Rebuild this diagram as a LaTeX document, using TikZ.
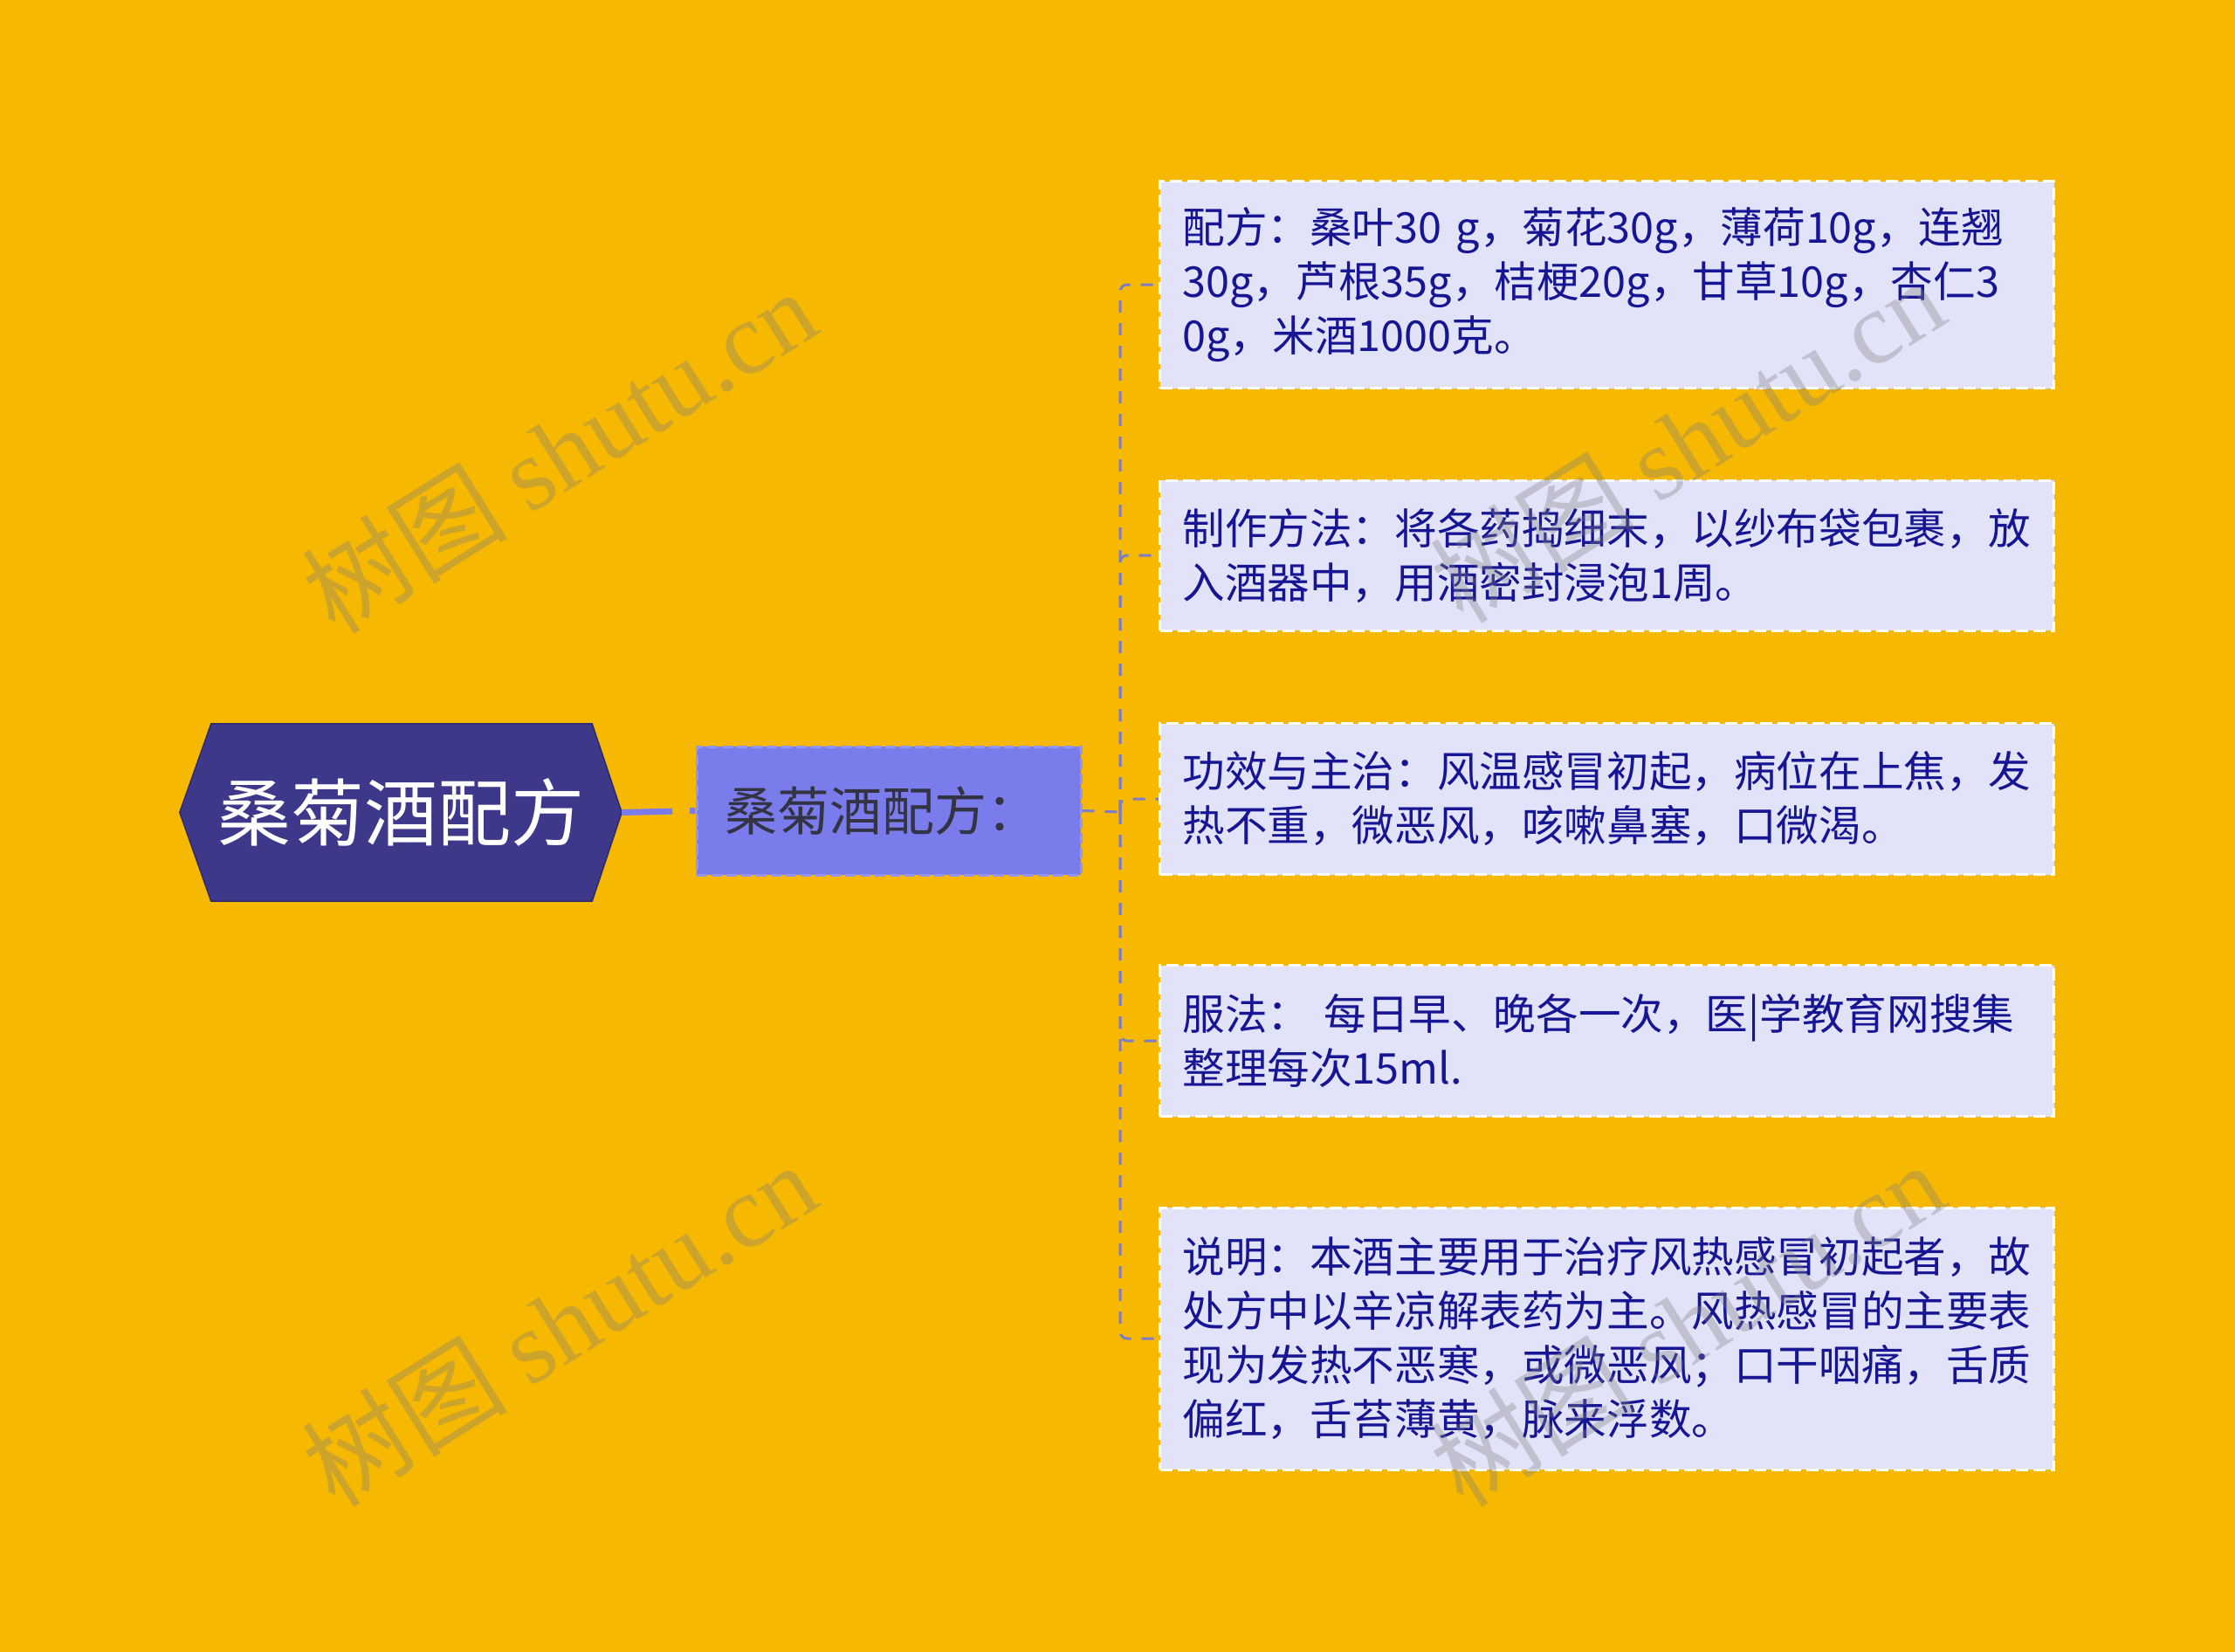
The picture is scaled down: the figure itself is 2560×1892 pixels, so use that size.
\documentclass[tikz,border=0pt]{standalone}
\usepackage{fontspec}
\setmainfont{Noto Sans CJK SC}
\newfontfamily\wmlatin{Liberation Serif}
\definecolor{bg}{RGB}{246,184,0}
\definecolor{rootfill}{RGB}{61,56,137}
\definecolor{midfill}{RGB}{123,124,235}
\definecolor{midborder}{RGB}{150,150,240}
\definecolor{boxfill}{RGB}{226,226,248}
\definecolor{boxtext}{RGB}{22,22,148}
\definecolor{midtext}{RGB}{51,51,68}
\definecolor{conn}{RGB}{125,125,200}
\definecolor{wmcol}{RGB}{128,128,128}
\tikzset{
  rootnode/.style={minimum width=506pt, minimum height=203pt, inner sep=0pt},
  midnode/.style={fill=midfill, draw=midborder, line width=3pt, dash pattern=on 12pt off 5pt, minimum width=440pt, minimum height=147pt, text width=376pt, inner xsep=32pt, inner ysep=0pt, align=left, text=midtext, font=\fontsize{60}{72}\selectfont},
  leaf/.style={fill=boxfill, draw=white, line width=3pt, dash pattern=on 14pt off 6pt, minimum height=#1, text width=972pt, inner xsep=26pt, inner ysep=0pt, align=left, anchor=west, text=boxtext, font=\fontsize{48.6}{62}\selectfont},
  trunkline/.style={draw=conn, line width=3pt, dash pattern=on 14pt off 12pt},
  rootline/.style={draw=midfill, line width=7pt, dash pattern=on 58pt off 20pt},
  wm/.style={rotate=32, text=wmcol, opacity=0.34, font=\fontsize{118}{124}\selectfont}
}
\begin{document}
\begin{tikzpicture}[x=1pt,y=-1pt]
\fill[bg] (0,0) rectangle (2560,1892);
\useasboundingbox (0,0) rectangle (2560,1892);

% root hexagon
\node[rootnode] (root) at (459,930.5) {};
\fill[rootfill, draw={rgb,255:red,45;green,42;blue,110}, line width=1.5pt]
  (root.west) -- ([xshift=36pt]root.north west) -- ([xshift=-34pt]root.north east)
  -- (root.east) -- ([xshift=-34pt]root.south east) -- ([xshift=36pt]root.south west) -- cycle;
\node[text=white, font=\fontsize{84}{100}\selectfont] (roottext) at (root.center) {桑菊酒配方};

% middle node
\node[midnode] (mid) at (1018,928.5) {桑菊酒配方：};

% leaves
\node[leaf=237pt] (b1) at (1327,326) {配方：桑叶30 g，菊花30g，薄荷10g，连翘\\30g，芦根35g，桔梗20g，甘草10g，杏仁3\\0g，米酒1000克。};
\node[leaf=172pt] (b2) at (1327,636) {制作方法：将各药捣细末，以纱布袋包裹，放\\入酒器中，用酒密封浸泡1周。};
\node[leaf=173pt] (b3) at (1327,915) {功效与主治：风温感冒初起，病位在上焦，发\\热不重，微恶风，咳嗽鼻塞，口微渴。};
\node[leaf=173pt] (b4) at (1327,1192) {服法：\ 每日早、晚各一次，医|学教育网搜集\\整理每次15ml.};
\node[leaf=300pt] (b5) at (1327,1533) {说明：本酒主要用于治疗风热感冒初起者，故\\处方中以辛凉解表药为主。风热感冒的主要表\\现为发热不恶寒，或微恶风；口干咽痛，舌质\\偏红，舌苔薄黄，脉来浮数。};

% connectors
\draw[rootline] (root.east) -- (mid.west);
\coordinate (split) at (1283,930);
\draw[trunkline] (mid.east) -- (split);
\foreach \b in {b1,b2,b3,b4,b5}{
  \draw[trunkline, rounded corners=8pt] (split) |- (\b.west);
}

% watermarks
\node[wm] (wm1) at (640,516) {树图 {\wmlatin shutu.cn}};
\node[wm] (wm2) at (640,1516) {树图 {\wmlatin shutu.cn}};
\node[wm] (wm3) at (1932,504) {树图 {\wmlatin shutu.cn}};
\node[wm] (wm4) at (1932,1516) {树图 {\wmlatin shutu.cn}};
\end{tikzpicture}
\end{document}
